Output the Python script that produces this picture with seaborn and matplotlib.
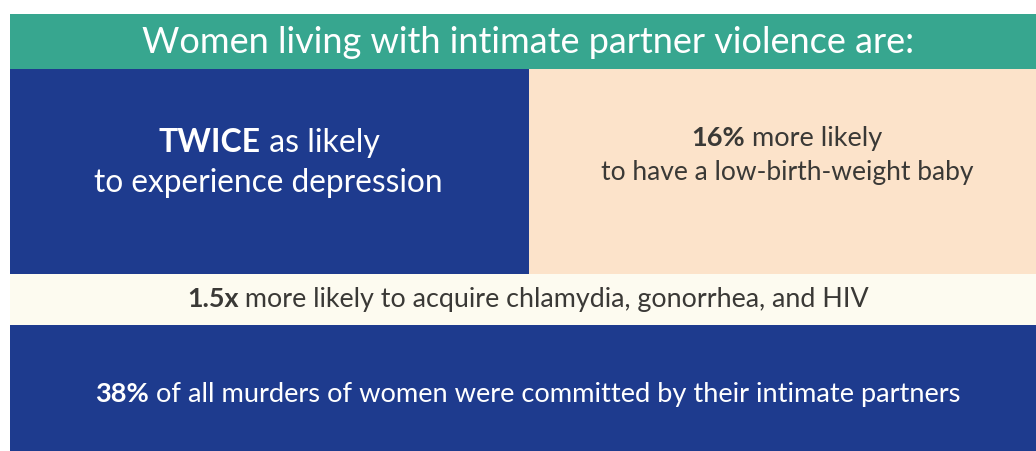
import matplotlib
matplotlib.use("Agg")
import matplotlib.pyplot as plt
import seaborn as sns
from matplotlib.patches import Rectangle

sns.set_theme(style="white")
plt.rcParams['font.family'] = ['Lato', 'DejaVu Sans']

# ---- content ----
title = "Women living with intimate partner violence are:"
stat_bold = ["TWICE", "16%", "1.5x", "38%"]
stat_rest_line1 = [" as likely", " more likely", " more likely to acquire chlamydia, gonorrhea, and HIV",
                   " of all murders of women were committed by their intimate partners"]
stat_line2 = ["to experience depression", "to have a low-birth-weight baby", "", ""]

# ---- colours / layout ----
TEAL = "#37A68F"
BLUE = "#1E3B8E"
PEACH = "#FCE3CA"
CREAM = "#FDFBF0"
DARK = "#3A3936"
W, H = 1036, 451

fig = plt.figure(figsize=(W / 100, H / 100), dpi=100)
ax = fig.add_axes([0, 0, 1, 1])
ax.set_xlim(0, W)
ax.set_ylim(H, 0)
ax.axis("off")

panels = [
    (10, 14, W - 10, 56, TEAL),
    (10, 69, 519, 205, BLUE),
    (529, 69, W - 529, 205, PEACH),
    (10, 274, W - 10, 51, CREAM),
    (10, 325, W - 10, H - 325, BLUE),
]
for x, y, w, h, c in panels:
    ax.add_patch(Rectangle((x, y), w, h, facecolor=c, edgecolor="none"))

fig.canvas.draw()
renderer = fig.canvas.get_renderer()


def mixed(cx, cy, parts, size, color):
    widths = []
    objs = []
    for s, wgt in parts:
        t = ax.text(0, cy, s, fontsize=size, fontweight=wgt, color=color,
                    ha="left", va="baseline")
        bb = t.get_window_extent(renderer=renderer)
        widths.append(bb.width)
        objs.append(t)
    total = sum(widths)
    x = cx - total / 2
    for t, w in zip(objs, widths):
        t.set_x(x)
        x += w


ax.text(528, 53, title, fontsize=26, color="white", ha="center", va="baseline")

mixed(269, 152, [(stat_bold[0], "bold"), (stat_rest_line1[0], "normal")], 23, "white")
ax.text(268, 192, stat_line2[0], fontsize=22.8, color="white", ha="center", va="baseline")

mixed(787, 146, [(stat_bold[1], "bold"), (stat_rest_line1[1], "normal")], 19.5, DARK)
ax.text(787, 180, stat_line2[1], fontsize=19, color=DARK, ha="center", va="baseline")

mixed(528, 307, [(stat_bold[2], "bold"), (stat_rest_line1[2], "normal")], 19.4, DARK)
mixed(528, 402, [(stat_bold[3], "bold"), (stat_rest_line1[3], "normal")], 19.6, "white")

fig.savefig("out.png", dpi=100, facecolor="white")
